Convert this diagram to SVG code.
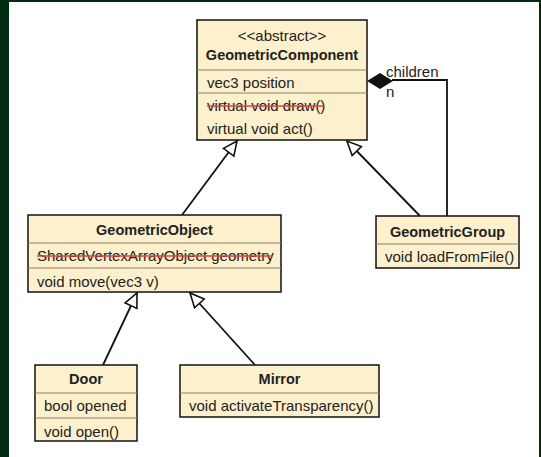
<svg xmlns="http://www.w3.org/2000/svg" width="541" height="457" viewBox="0 0 541 457">
<style>
.box{fill:#fdf0cc;stroke:#111;stroke-width:1.5}
.div{stroke:#8c826f;stroke-width:1.2}
.t{font-family:"Liberation Sans",Arial,sans-serif;font-size:15px;fill:#222}
.b{font-family:"Liberation Sans",Arial,sans-serif;font-size:14.5px;font-weight:bold;fill:#222}
.c{text-anchor:middle}
.strike{stroke:#e2423c;stroke-width:1.4}
.edge{fill:none;stroke:#111;stroke-width:1.8}
</style>
<defs>
<marker id="gen" viewBox="0 0 16 16" refX="15" refY="8" markerWidth="16" markerHeight="16" markerUnits="userSpaceOnUse" orient="auto">
<path d="M1,1.5 L15,8 L1,14.5 Z" fill="#fff" stroke="#111" stroke-width="1.6"/>
</marker>
</defs>
<rect x="0" y="0" width="541" height="457" fill="#022c11"/>
<rect x="9" y="2" width="530" height="455" fill="#fff"/>
<g id="connectors">
<line class="edge" x1="182" y1="215" x2="237" y2="141" marker-end="url(#gen)"/>
<line class="edge" x1="420" y1="216" x2="347" y2="141" marker-end="url(#gen)"/>
<line class="edge" x1="103" y1="365" x2="137" y2="293" marker-end="url(#gen)"/>
<line class="edge" x1="255" y1="365" x2="190" y2="293" marker-end="url(#gen)"/>
<path class="edge" d="M447,216 V80 H392"/>
<polygon points="367,81 380,73 393,81 380,89" fill="#111"/>
<text class="t" x="386" y="77">children</text>
<text class="t" x="386" y="97">n</text>
</g>
<g id="GeometricComponent">
<rect class="box" x="197" y="20" width="170" height="120"/>
<line class="div" x1="197" y1="70" x2="367" y2="70"/>
<line class="div" x1="197" y1="93" x2="367" y2="93"/>
<text class="t c" x="282" y="41">&lt;&lt;abstract&gt;&gt;</text>
<text class="b c" x="282" y="60">GeometricComponent</text>
<text class="t" x="207" y="88">vec3 position</text>
<text class="t" x="207" y="111">virtual void draw()</text>
<line class="strike" x1="207" y1="106" x2="325" y2="106"/>
<text class="t" x="207" y="134">virtual void act()</text>
</g>
<g id="GeometricObject">
<rect class="box" x="28" y="215" width="253" height="77"/>
<line class="div" x1="28" y1="243" x2="281" y2="243"/>
<line class="div" x1="28" y1="268" x2="281" y2="268"/>
<text class="b c" x="154.5" y="235">GeometricObject</text>
<text class="t" x="37" y="261">SharedVertexArrayObject geometry</text>
<line class="strike" x1="37" y1="256" x2="272" y2="256"/>
<text class="t" x="37" y="287">void move(vec3 v)</text>
</g>
<g id="GeometricGroup">
<rect class="box" x="376" y="216" width="143" height="52"/>
<line class="div" x1="376" y1="244" x2="519" y2="244"/>
<text class="b c" x="447.5" y="237">GeometricGroup</text>
<text class="t" x="385" y="262">void loadFromFile()</text>
</g>
<g id="Door">
<rect class="box" x="35" y="365" width="102" height="76"/>
<line class="div" x1="35" y1="393" x2="137" y2="393"/>
<line class="div" x1="35" y1="418" x2="137" y2="418"/>
<text class="b c" x="86" y="384">Door</text>
<text class="t" x="44" y="411">bool opened</text>
<text class="t" x="44" y="437">void open()</text>
</g>
<g id="Mirror">
<rect class="box" x="180" y="365" width="199" height="52"/>
<line class="div" x1="180" y1="393" x2="379" y2="393"/>
<text class="b c" x="279.5" y="384">Mirror</text>
<text class="t" x="189" y="411">void activateTransparency()</text>
</g>
</svg>
